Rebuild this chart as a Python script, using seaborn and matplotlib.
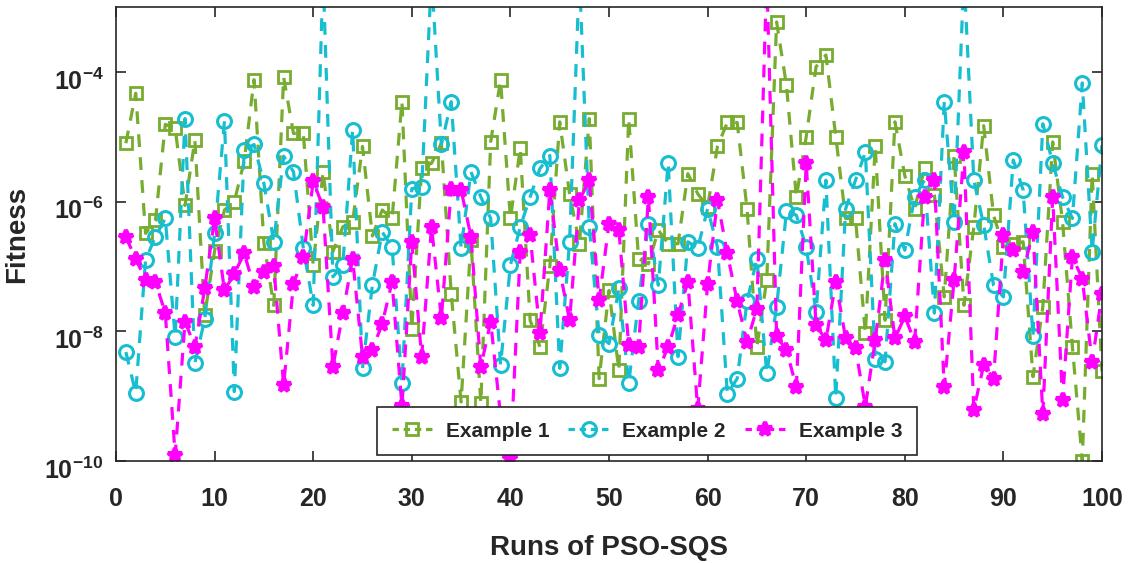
import numpy as np
import matplotlib
matplotlib.use("Agg")
import matplotlib.pyplot as plt
from matplotlib.ticker import NullLocator
from matplotlib.transforms import ScaledTranslation
import seaborn as sns

# runs 1..100, fitness (stored as log10 exponents)
runs = list(range(1, 101))

ex1_log10 = [
    -5.10, -4.33, -6.49, -6.29, -4.81, -4.87, -6.06, -5.05, -7.75, -6.76,
    -6.13, -6.00, -5.38, -4.12, -6.64, -7.60, -4.08, -4.95, -4.95, -6.98,
    -5.54, -6.77, -6.39, -6.31, -5.15, -6.53, -6.13, -6.26, -4.46, -7.96,
    -5.48, -5.41, -5.10, -7.42, -9.09, -6.60, -9.11, -5.08, -4.13, -6.26,
    -5.18, -7.83, -8.24, -7.00, -4.77, -5.88, -6.65, -4.72, -8.73, -7.37,
    -8.60, -4.72, -6.88, -6.96, -6.44, -6.65, -6.65, -5.57, -5.88, -6.08,
    -5.15, -4.78, -4.78, -6.11, -8.24, -7.21, -3.23, -4.21, -5.93, -5.00,
    -3.92, -3.74, -5.00, -6.26, -6.26, -8.03, -5.15, -7.83, -4.77, -5.60,
    -6.11, -5.48, -5.90, -7.47, -5.29, -7.60, -6.39, -4.83, -6.21, -6.70,
    -6.65, -6.62, -8.70, -7.62, -5.08, -6.31, -8.24, -10.0, -5.57, -8.62,
]

ex2_log10 = [
    -8.32, -8.95, -6.90, -6.54, -6.26, -8.09, -4.72, -8.49, -7.81, -6.49,
    -4.76, -8.93, -5.21, -5.12, -5.72, -6.62, -5.30, -5.54, -6.72, -7.60,
    -2.50, -7.16, -6.98, -4.90, -8.57, -7.29, -6.47, -6.70, -8.80, -5.80,
    -5.78, -2.50, -5.12, -4.46, -6.72, -5.54, -5.93, -6.26, -8.52, -6.98,
    -6.39, -5.93, -5.49, -5.29, -8.57, -6.62, -2.50, -6.39, -8.06, -8.19,
    -7.34, -8.80, -7.54, -6.34, -7.29, -5.40, -8.39, -6.62, -6.72, -6.11,
    -6.70, -8.96, -8.73, -7.54, -6.88, -8.65, -7.62, -6.15, -6.21, -6.70,
    -7.70, -5.67, -9.03, -6.11, -5.67, -5.24, -8.42, -8.47, -6.34, -6.75,
    -5.93, -5.67, -7.72, -4.46, -6.31, -2.50, -5.67, -6.36, -7.29, -7.47,
    -5.36, -5.82, -8.08, -4.80, -5.41, -5.93, -6.26, -4.17, -6.77, -5.13,
]

ex3_log10 = [
    -6.55, -6.88, -7.21, -7.24, -7.72, -9.91, -7.85, -8.24, -7.34, -6.26,
    -7.37, -7.11, -6.80, -7.31, -7.08, -7.00, -8.83, -7.27, -6.85, -5.69,
    -6.08, -8.55, -7.72, -6.88, -8.39, -8.29, -7.88, -7.24, -9.15, -6.62,
    -8.39, -6.39, -7.80, -5.80, -5.82, -6.54, -8.55, -7.85, -9.30, -9.95,
    -6.77, -6.52, -8.03, -5.82, -7.06, -7.83, -5.98, -5.67, -7.52, -6.34,
    -6.44, -8.21, -8.24, -5.93, -8.60, -8.24, -7.75, -7.24, -9.20, -7.27,
    -5.98, -6.80, -7.54, -8.16, -7.65, -2.50, -8.08, -8.29, -8.86, -5.41,
    -7.90, -8.14, -7.24, -8.11, -8.26, -9.16, -8.14, -6.90, -8.11, -7.77,
    -8.16, -5.93, -5.67, -8.86, -7.21, -5.24, -9.21, -8.52, -8.73, -6.52,
    -6.75, -7.08, -6.47, -9.27, -5.93, -9.06, -6.85, -7.19, -8.47, -7.42,
]

labels = ["Example 1", "Example 2", "Example 3"]
colors = ["#77AC30", "#17BECF", "#FF00FF"]

sns.set_style("ticks")
plt.rcParams["font.family"] = ["Liberation Sans", "DejaVu Sans"]
plt.rcParams["mathtext.fontset"] = "custom"
plt.rcParams["mathtext.bf"] = "Liberation Sans:bold"
plt.rcParams["mathtext.rm"] = "Liberation Sans"

txt = "#262626"

fig = plt.figure(figsize=(11.31, 5.63), dpi=100)
ax = fig.add_axes([116 / 1131, 1 - 461 / 563, 986 / 1131, 454 / 563])
ax.set_yscale("log")

# Example 1 - open squares
sns.lineplot(x=runs, y=10.0 ** np.array(ex1_log10), ax=ax, sort=False,
             color=colors[0], linewidth=2.3, linestyle="--",
             marker="s", markersize=8, markerfacecolor="none",
             markeredgecolor=colors[0], markeredgewidth=2, label=labels[0])
# Example 2 - open circles
sns.lineplot(x=runs, y=10.0 ** np.array(ex2_log10), ax=ax, sort=False,
             color=colors[1], linewidth=2.3, linestyle="--",
             marker="o", markersize=10, markerfacecolor="none",
             markeredgecolor=colors[1], markeredgewidth=2.2, label=labels[1])
# Example 3 - stars
sns.lineplot(x=runs, y=10.0 ** np.array(ex3_log10), ax=ax, sort=False,
             color=colors[2], linewidth=2.3, linestyle="--",
             marker="*", markersize=10, markerfacecolor=colors[2],
             markeredgecolor=colors[2], markeredgewidth=3, label=labels[2])

for ln in ax.lines:
    ln.set_dashes([4, 3.2])

ax.set_xlim(0, 100)
ax.set_ylim(1e-10, 1e-3)
ax.set_xticks(range(0, 101, 10))
ax.set_yticks([1e-10, 1e-8, 1e-6, 1e-4])
ax.set_yticklabels([r"$\mathbf{10^{-10}}$", r"$\mathbf{10^{-8}}$",
                    r"$\mathbf{10^{-6}}$", r"$\mathbf{10^{-4}}$"])
ax.yaxis.set_minor_locator(NullLocator())

ax.tick_params(direction="in", length=7, width=1.2, top=True, right=True,
               labelsize=18, colors=txt)
ax.tick_params(axis="x", pad=19)
ax.tick_params(axis="y", pad=9)
for t in ax.get_xticklabels():
    t.set_fontweight("bold")
# matlab puts the power labels a little below the tick
shift = ScaledTranslation(0, -7 / 100, fig.dpi_scale_trans)
for t in ax.get_yticklabels():
    t.set_transform(t.get_transform() + shift)
for s in ax.spines.values():
    s.set_color(txt)
    s.set_linewidth(1.2)

ax.set_xlabel("Runs of PSO-SQS", fontsize=20, fontweight="bold", color=txt,
              labelpad=17)
ax.set_ylabel("Fitness", fontsize=20, fontweight="bold", color=txt,
              labelpad=10)

leg = ax.legend(loc="lower center", bbox_to_anchor=(0.5385, 0.013), ncol=3,
                frameon=True, fancybox=False, framealpha=1,
                edgecolor=txt, prop={"weight": "bold", "size": 15},
                handlelength=2.0, handletextpad=0.6, columnspacing=0.9,
                borderpad=0.7, borderaxespad=0)
leg.get_frame().set_linewidth(1.2)
for h in leg.get_lines():
    h.set_dashes([2, 1.5])

fig.savefig("out.png", dpi=100)
